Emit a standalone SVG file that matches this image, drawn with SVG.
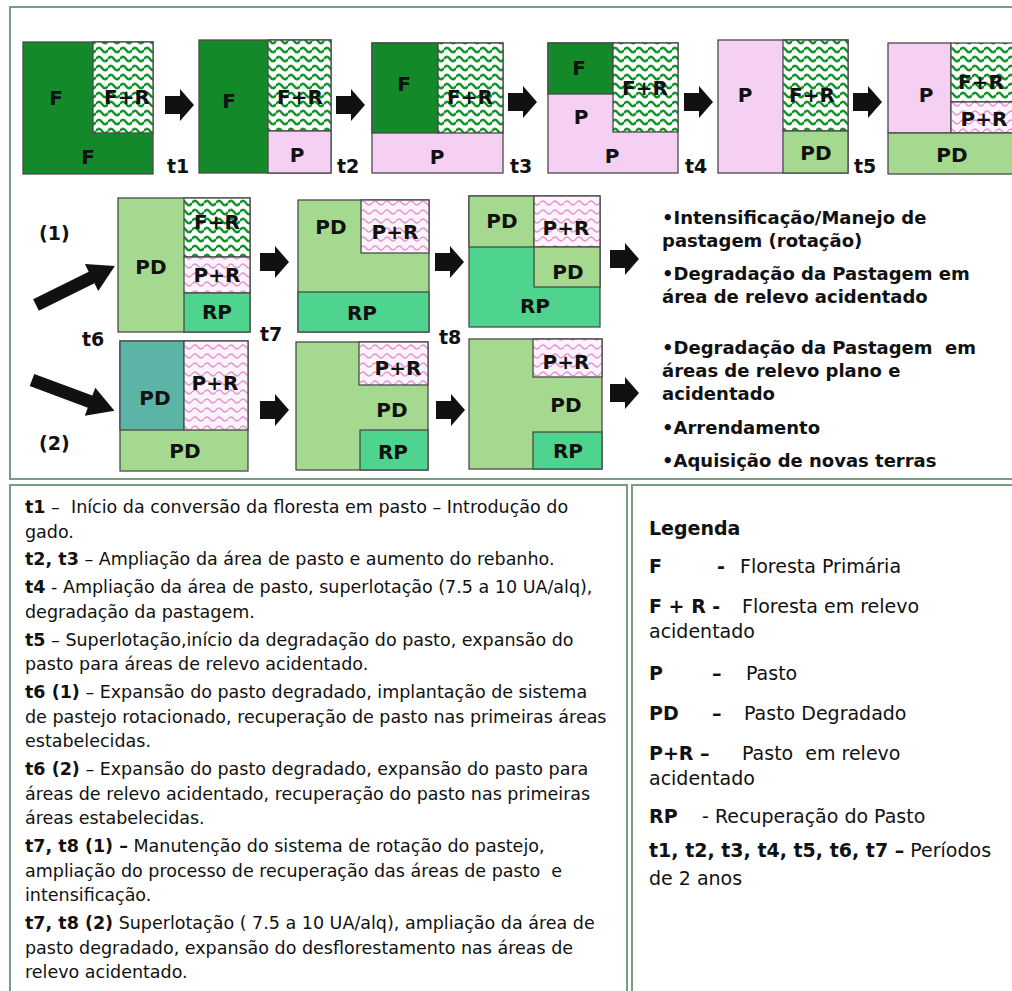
<svg xmlns="http://www.w3.org/2000/svg" width="1012" height="991" viewBox="0 0 1012 991">
<defs>
<pattern id="wavesG" patternUnits="userSpaceOnUse" width="12" height="9">
<rect width="12" height="9" fill="#ffffff"/>
<path d="M0,5 Q3,0.5 6,5 T12,5" fill="none" stroke="#13942a" stroke-width="2.4"/>
</pattern>
<pattern id="wavesP" patternUnits="userSpaceOnUse" width="12" height="9">
<rect width="12" height="9" fill="#fdf4fb"/>
<path d="M0,5 Q3,1 6,5 T12,5" fill="none" stroke="#e595d5" stroke-width="1.4"/>
</pattern>
<path id="blk" d="M0,-9 H15 V-16 L29,0 L15,16 V9 H0 Z" fill="#111111"/>
<path id="diag" d="M0,-6.5 H62 V-15 L88,0 L62,15 V6.5 H0 Z" fill="#111111"/>
</defs>
<style>
.F{fill:#14892a;stroke:#4a4a4a;stroke-width:1.3}
.P{fill:#f6d0f2;stroke:#4a4a4a;stroke-width:1.3}
.PD{fill:#a5d98f;stroke:#4a4a4a;stroke-width:1.3}
.RP{fill:#4fd48f;stroke:#4a4a4a;stroke-width:1.3}
.PDt{fill:#5bb4a6;stroke:#4a4a4a;stroke-width:1.3}
.FR{fill:url(#wavesG);stroke:#4a4a4a;stroke-width:1.3}
.PR{fill:url(#wavesP);stroke:#4a4a4a;stroke-width:1.3}
.lbl{font-family:"DejaVu Sans",sans-serif;font-weight:bold;font-size:20px;fill:#111111;text-anchor:middle}
.tl{font-family:"DejaVu Sans",sans-serif;font-weight:bold;font-size:19px;fill:#111111}
.side{font-family:"DejaVu Sans",sans-serif;font-weight:bold;font-size:18px;fill:#111111;white-space:pre}
.body{font-family:"DejaVu Sans",sans-serif;font-size:17.5px;fill:#111111;white-space:pre}
.leg{font-family:"DejaVu Sans",sans-serif;font-size:19px;fill:#111111;white-space:pre}
.b{font-weight:bold}
.panel{fill:#ffffff;stroke:#7a9c82;stroke-width:2}
</style>
<rect width="1012" height="991" fill="#ffffff"/>
<g id="panels">
<rect class="panel" x="10" y="7" width="1010" height="472"/>
<rect class="panel" x="10" y="485" width="617" height="520"/>
<rect class="panel" x="632" y="485" width="400" height="520"/>
</g>
<g id="t0">
<rect class="F" x="23" y="42" width="130" height="132"/>
<rect class="FR" x="93" y="42" width="60" height="91"/>
<text class="lbl" x="56" y="105">F</text>
<text class="lbl" x="127" y="104">F+R</text>
<text class="lbl" x="88" y="164">F</text>
</g>
<g id="t1box">
<rect class="F" x="199" y="40" width="132" height="133"/>
<rect class="FR" x="268" y="40" width="63" height="91"/>
<rect class="P" x="268" y="131" width="63" height="42"/>
<text class="lbl" x="229" y="108">F</text>
<text class="lbl" x="300" y="104">F+R</text>
<text class="lbl" x="297" y="162">P</text>
</g>
<g id="t2box">
<rect class="P" x="372" y="43" width="131" height="130"/>
<rect class="F" x="372" y="43" width="66" height="90"/>
<rect class="FR" x="438" y="43" width="65" height="90"/>
<text class="lbl" x="404" y="91">F</text>
<text class="lbl" x="470" y="104">F+R</text>
<text class="lbl" x="437" y="164">P</text>
</g>
<g id="t3box">
<rect class="P" x="548" y="43" width="130" height="130"/>
<rect class="F" x="548" y="43" width="65" height="51"/>
<rect class="FR" x="613" y="43" width="65" height="89"/>
<text class="lbl" x="579" y="75">F</text>
<text class="lbl" x="645" y="95">F+R</text>
<text class="lbl" x="581" y="124">P</text>
<text class="lbl" x="612" y="163">P</text>
</g>
<g id="t4box">
<rect class="P" x="718" y="40" width="130" height="133"/>
<rect class="FR" x="783" y="40" width="65" height="91"/>
<rect class="PD" x="783" y="131" width="65" height="42"/>
<text class="lbl" x="745" y="102">P</text>
<text class="lbl" x="812" y="102">F+R</text>
<text class="lbl" x="816" y="160">PD</text>
</g>
<g id="t5box">
<rect class="P" x="888" y="43" width="63" height="90"/>
<rect class="FR" x="951" y="43" width="70" height="59"/>
<rect class="PR" x="951" y="102" width="70" height="31"/>
<rect class="PD" x="888" y="133" width="133" height="41"/>
<text class="lbl" x="926" y="102">P</text>
<text class="lbl" x="981" y="89">F+R</text>
<text class="lbl" x="984" y="126">P+R</text>
<text class="lbl" x="952" y="162">PD</text>
</g>
<g id="t6a">
<rect class="PD" x="118" y="198" width="132" height="134"/>
<rect class="FR" x="184" y="198" width="66" height="59"/>
<rect class="PR" x="184" y="257" width="66" height="36"/>
<rect class="RP" x="184" y="293" width="66" height="39"/>
<text class="lbl" x="151" y="274">PD</text>
<text class="lbl" x="217" y="229">F+R</text>
<text class="lbl" x="217" y="282">P+R</text>
<text class="lbl" x="217" y="319">RP</text>
</g>
<g id="t7a">
<rect class="PD" x="298" y="200" width="131" height="132"/>
<rect class="PR" x="361" y="200" width="68" height="53"/>
<rect class="RP" x="298" y="292" width="131" height="40"/>
<text class="lbl" x="331" y="234">PD</text>
<text class="lbl" x="395" y="239">P+R</text>
<text class="lbl" x="362" y="320">RP</text>
</g>
<g id="t8a">
<rect class="RP" x="469" y="196" width="131" height="131"/>
<rect class="PD" x="469" y="196" width="65" height="51"/>
<rect class="PR" x="534" y="196" width="66" height="51"/>
<rect class="PD" x="534" y="247" width="66" height="40"/>
<text class="lbl" x="502" y="228">PD</text>
<text class="lbl" x="566" y="235">P+R</text>
<text class="lbl" x="568" y="279">PD</text>
<text class="lbl" x="535" y="313">RP</text>
</g>
<g id="t6b">
<rect class="PD" x="120" y="341" width="128" height="130"/>
<rect class="PDt" x="120" y="341" width="64" height="89"/>
<rect class="PR" x="184" y="341" width="64" height="89"/>
<text class="lbl" x="155" y="405">PD</text>
<text class="lbl" x="215" y="390">P+R</text>
<text class="lbl" x="185" y="458">PD</text>
</g>
<g id="t7b">
<rect class="PD" x="296" y="342" width="132" height="128"/>
<rect class="PR" x="359" y="342" width="69" height="43"/>
<rect class="RP" x="360" y="430" width="68" height="40"/>
<text class="lbl" x="398" y="375">P+R</text>
<text class="lbl" x="392" y="417">PD</text>
<text class="lbl" x="393" y="459">RP</text>
</g>
<g id="t8b">
<rect class="PD" x="469" y="339" width="133" height="130"/>
<rect class="PR" x="533" y="339" width="69" height="38"/>
<rect class="RP" x="533" y="432" width="69" height="37"/>
<text class="lbl" x="566" y="369">P+R</text>
<text class="lbl" x="566" y="412">PD</text>
<text class="lbl" x="568" y="458">RP</text>
</g>
<g id="connectors">
<use href="#blk" x="165" y="105"/>
<use href="#blk" x="336" y="105"/>
<use href="#blk" x="508" y="102"/>
<use href="#blk" x="684" y="102"/>
<use href="#blk" x="853" y="102"/>
<use href="#blk" x="260" y="262"/>
<use href="#blk" x="435" y="262"/>
<use href="#blk" x="610" y="259"/>
<use href="#blk" x="260" y="410"/>
<use href="#blk" x="436" y="410"/>
<use href="#blk" x="610" y="393"/>
<use href="#diag" transform="translate(36,305) rotate(-26.3)"/>
<use href="#diag" transform="translate(32,380) rotate(20.5)"/>
</g>
<g id="time-labels">
<text class="tl" x="167" y="173">t1</text>
<text class="tl" x="337" y="173">t2</text>
<text class="tl" x="510" y="173">t3</text>
<text class="tl" x="685" y="173">t4</text>
<text class="tl" x="854" y="173">t5</text>
<text class="tl" x="82" y="346">t6</text>
<text class="tl" x="260" y="341">t7</text>
<text class="tl" x="439" y="344">t8</text>
<text class="tl" x="39" y="240">(1)</text>
<text class="tl" x="39" y="450">(2)</text>
</g>
<g id="outcomes">
<text class="side" x="662" y="224">•Intensificação/Manejo de</text>
<text class="side" x="662" y="247">pastagem (rotação)</text>
<text class="side" x="662" y="280">•Degradação da Pastagem em</text>
<text class="side" x="662" y="303">área de relevo acidentado</text>
<text class="side" x="662" y="354">•Degradação da Pastagem  em</text>
<text class="side" x="662" y="377">áreas de relevo plano e</text>
<text class="side" x="662" y="400">acidentado</text>
<text class="side" x="662" y="434">•Arrendamento</text>
<text class="side" x="662" y="467">•Aquisição de novas terras</text>
</g>
<g id="description">
<text class="body" x="25" y="513"><tspan class="b">t1</tspan> –  Início da conversão da floresta em pasto – Introdução do</text>
<text class="body" x="25" y="537.6">gado.</text>
<text class="body" x="25" y="565.4"><tspan class="b">t2, t3</tspan> – Ampliação da área de pasto e aumento do rebanho.</text>
<text class="body" x="25" y="593.2"><tspan class="b">t4</tspan> - Ampliação da área de pasto, superlotação (7.5 a 10 UA/alq),</text>
<text class="body" x="25" y="617.8">degradação da pastagem.</text>
<text class="body" x="25" y="645.6"><tspan class="b">t5</tspan> – Superlotação,início da degradação do pasto, expansão do</text>
<text class="body" x="25" y="670.2">pasto para áreas de relevo acidentado.</text>
<text class="body" x="25" y="698"><tspan class="b">t6 (1)</tspan> – Expansão do pasto degradado, implantação de sistema</text>
<text class="body" x="25" y="722.6">de pastejo rotacionado, recuperação de pasto nas primeiras áreas</text>
<text class="body" x="25" y="747.2">estabelecidas.</text>
<text class="body" x="25" y="775"><tspan class="b">t6 (2)</tspan> – Expansão do pasto degradado, expansão do pasto para</text>
<text class="body" x="25" y="799.6">áreas de relevo acidentado, recuperação do pasto nas primeiras</text>
<text class="body" x="25" y="824.2">áreas estabelecidas.</text>
<text class="body" x="25" y="852"><tspan class="b">t7, t8 (1) –</tspan> Manutenção do sistema de rotação do pastejo,</text>
<text class="body" x="25" y="876.6">ampliação do processo de recuperação das áreas de pasto  e</text>
<text class="body" x="25" y="901.2">intensificação.</text>
<text class="body" x="25" y="929"><tspan class="b">t7, t8 (2)</tspan> Superlotação ( 7.5 a 10 UA/alq), ampliação da área de</text>
<text class="body" x="25" y="953.6">pasto degradado, expansão do desflorestamento nas áreas de</text>
<text class="body" x="25" y="978.2">relevo acidentado.</text>
</g>
<g id="legend">
<text class="leg b" x="649" y="535">Legenda</text>
<text class="leg b" x="649" y="573">F</text>
<text class="leg b" x="717" y="573">-</text>
<text class="leg" x="740" y="573">Floresta Primária</text>
<text class="leg b" x="649" y="613">F + R -</text>
<text class="leg" x="742" y="613">Floresta em relevo</text>
<text class="leg" x="649" y="638">acidentado</text>
<text class="leg b" x="649" y="680">P</text>
<text class="leg b" x="712" y="680">–</text>
<text class="leg" x="746" y="680">Pasto</text>
<text class="leg b" x="649" y="720">PD</text>
<text class="leg b" x="712" y="720">–</text>
<text class="leg" x="744" y="720">Pasto Degradado</text>
<text class="leg b" x="649" y="760">P+R –</text>
<text class="leg" x="742" y="760">Pasto  em relevo</text>
<text class="leg" x="649" y="785">acidentado</text>
<text class="leg b" x="649" y="823">RP</text>
<text class="leg" x="702" y="823">- Recuperação do Pasto</text>
<text class="leg" x="649" y="857"><tspan class="b">t1, t2, t3, t4, t5, t6, t7 –</tspan> Períodos</text>
<text class="leg" x="649" y="885">de 2 anos</text>
</g>
</svg>
